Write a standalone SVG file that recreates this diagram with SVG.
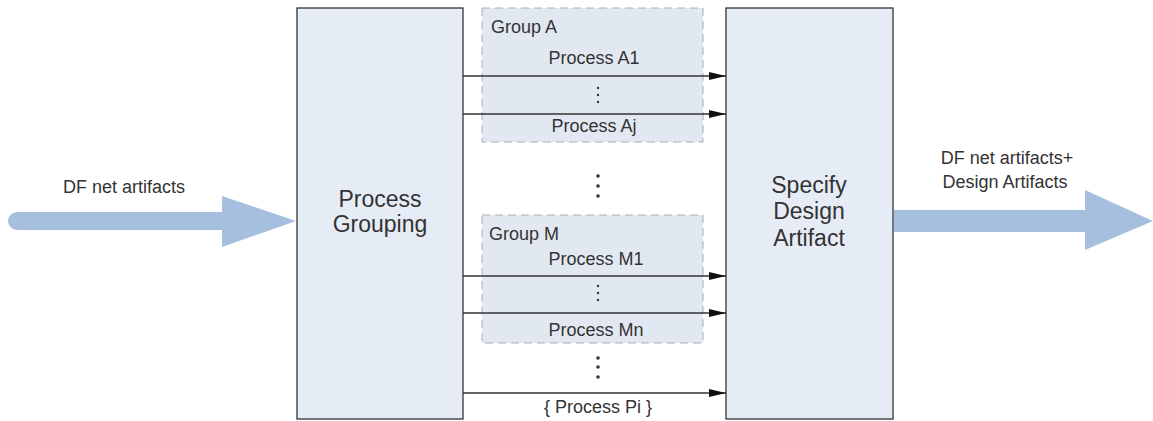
<svg xmlns="http://www.w3.org/2000/svg" width="1153" height="421" viewBox="0 0 1153 421">
  <style>
    .box { fill: #e6ecf5; stroke: #333; stroke-width: 1.3; }
    .grp { fill: #e2e8f1; stroke: #a8aeb6; stroke-width: 1; stroke-dasharray: 8 5; }
    .flow { fill: #a6bfdf; }
    .t { font-family: "Liberation Sans", Arial, sans-serif; fill: #333; }
    .big { font-size: 23px; text-anchor: middle; }
    .lbl { font-size: 18px; }
    .mid { text-anchor: middle; }
    .con { stroke: #333; stroke-width: 1.3; fill: none; marker-end: url(#ah); }
    .dot { fill: #333; }
  </style>
  <defs>
    <marker id="ah" viewBox="0 0 10 10" refX="10" refY="5" markerWidth="17" markerHeight="8" markerUnits="userSpaceOnUse" orient="auto" preserveAspectRatio="none">
      <path d="M0,0 L10,5 L0,10 Z" fill="#111"/>
    </marker>
  </defs>
  <rect width="1153" height="421" fill="#fff"/>

  <!-- incoming flow -->
  <g id="flow-in">
    <path class="flow" d="M17,212 L222,212 L222,196 L296,221 L222,247 L222,230 L17,230 A9,9 0 0 1 17,212 Z"/>
    <text class="t lbl" x="63" y="193">DF net artifacts</text>
  </g>

  <!-- process grouping -->
  <g id="process-grouping">
    <rect class="box" x="297" y="8" width="166" height="411"/>
    <text class="t big" x="380" y="207">Process</text>
    <text class="t big" x="380" y="232">Grouping</text>
  </g>

  <!-- group A -->
  <g id="group-a">
    <rect class="grp" x="482" y="8" width="221" height="134"/>
    <text class="t lbl" x="491" y="33">Group A</text>
    <text class="t lbl mid" x="594" y="64">Process A1</text>
    <text class="t lbl mid" x="594" y="132">Process Aj</text>
    <circle class="dot" cx="598" cy="88" r="1.2"/>
    <circle class="dot" cx="598" cy="95" r="1.2"/>
    <circle class="dot" cx="598" cy="102" r="1.2"/>
  </g>

  <!-- between groups -->
  <g id="ellipsis-1">
    <circle class="dot" cx="598" cy="176" r="1.8"/>
    <circle class="dot" cx="598" cy="186" r="1.8"/>
    <circle class="dot" cx="598" cy="196" r="1.8"/>
  </g>

  <!-- group M -->
  <g id="group-m">
    <rect class="grp" x="482" y="215" width="221" height="128"/>
    <text class="t lbl" x="489" y="240">Group M</text>
    <text class="t lbl mid" x="596" y="265">Process M1</text>
    <text class="t lbl mid" x="596" y="336">Process Mn</text>
    <circle class="dot" cx="598" cy="286" r="1.2"/>
    <circle class="dot" cx="598" cy="293" r="1.2"/>
    <circle class="dot" cx="598" cy="300" r="1.2"/>
  </g>

  <g id="ellipsis-2">
    <circle class="dot" cx="598" cy="358" r="1.8"/>
    <circle class="dot" cx="598" cy="367" r="1.8"/>
    <circle class="dot" cx="598" cy="377" r="1.8"/>
  </g>

  <g id="process-pi">
    <text class="t lbl mid" x="598" y="413">{ Process Pi }</text>
  </g>

  <!-- specify design artifact -->
  <g id="specify-design-artifact">
    <rect class="box" x="726" y="8" width="167" height="411"/>
    <text class="t big" x="809" y="193">Specify</text>
    <text class="t big" x="809" y="219">Design</text>
    <text class="t big" x="809" y="246">Artifact</text>
  </g>

  <!-- outgoing flow -->
  <g id="flow-out">
    <path class="flow" d="M894,210 L1085,210 L1085,190 L1153,221 L1085,250 L1085,232 L894,232 Z"/>
    <text class="t lbl mid" x="1007" y="164">DF net artifacts+</text>
    <text class="t lbl mid" x="1005" y="188">Design Artifacts</text>
  </g>

  <!-- process connectors -->
  <g id="connectors">
    <line class="con" x1="463" y1="76" x2="726" y2="76"/>
    <line class="con" x1="463" y1="114" x2="726" y2="114"/>
    <line class="con" x1="463" y1="276" x2="726" y2="276"/>
    <line class="con" x1="463" y1="313" x2="726" y2="313"/>
    <line class="con" x1="463" y1="393" x2="726" y2="393"/>
  </g>
</svg>
